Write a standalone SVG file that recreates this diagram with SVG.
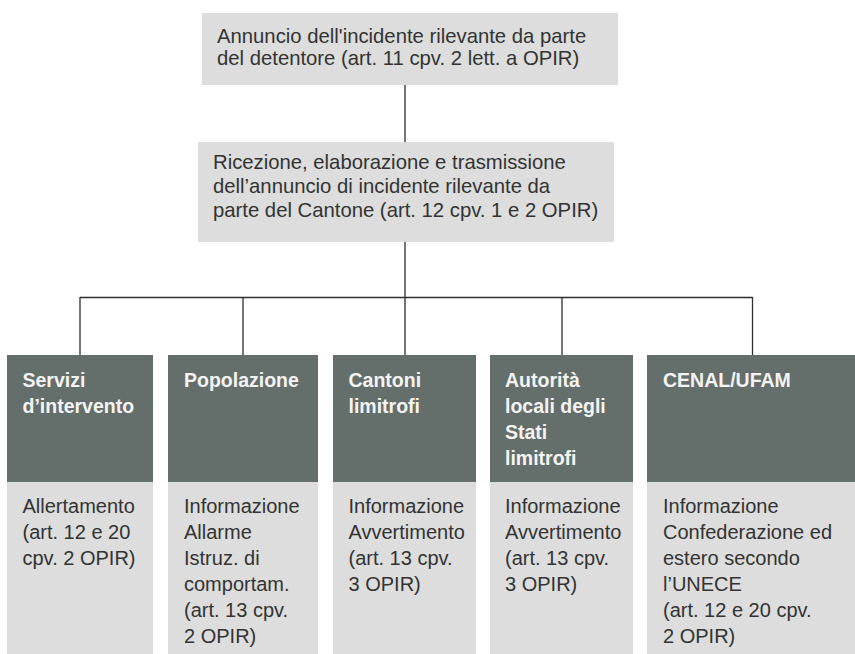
<svg xmlns="http://www.w3.org/2000/svg" width="855" height="654" viewBox="0 0 855 654">
<style>
.light{fill:#dcdddc}
.dark{fill:#646e6b}
.t{font-family:"Liberation Sans",Arial,sans-serif;font-size:20px;fill:#333}
.tt{font-size:20.3px}
.h{font-family:"Liberation Sans",Arial,sans-serif;font-size:19.5px;font-weight:bold;fill:#f4f4f4}
.c{stroke:#2e2e2e;stroke-width:1.3;fill:none}
</style>
<rect width="855" height="654" fill="#fff"/>
<g id="connectors">
<path class="c" d="M405 85V142M405 242V355M80 297.5H752.5M80 297V355M243 297V355M562 297V355M752.5 297V355"/>
</g>
<g id="n-annuncio">
<rect class="light" x="202" y="13" width="416" height="72"/>
<text class="t tt" x="217" y="43">Annuncio dell'incidente rilevante da parte</text>
<text class="t tt" x="217" y="65">del detentore (art. 11 cpv. 2 lett. a OPIR)</text>
</g>
<g id="n-ricezione">
<rect class="light" x="198" y="142" width="416" height="100"/>
<text class="t tt" x="213" y="169">Ricezione, elaborazione e trasmissione</text>
<text class="t tt" x="213" y="193">dell’annuncio di incidente rilevante da</text>
<text class="t tt" x="213" y="217">parte del Cantone (art. 12 cpv. 1 e 2 OPIR)</text>
</g>
<g id="n-servizi">
<rect class="dark" x="7" y="355" width="146" height="127"/>
<rect class="light" x="7" y="482" width="146" height="172"/>
<text class="h" x="22.5" y="387">Servizi</text>
<text class="h" x="22.5" y="413">d’intervento</text>
<text class="t" x="22.5" y="513">Allertamento</text>
<text class="t" x="22.5" y="539">(art. 12 e 20</text>
<text class="t" x="22.5" y="565">cpv. 2 OPIR)</text>
</g>
<g id="n-popolazione">
<rect class="dark" x="168" y="355" width="150" height="127"/>
<rect class="light" x="168" y="482" width="150" height="172"/>
<text class="h" x="184" y="387">Popolazione</text>
<text class="t" x="184" y="513">Informazione</text>
<text class="t" x="184" y="539">Allarme</text>
<text class="t" x="184" y="565">Istruz. di</text>
<text class="t" x="184" y="591">comportam.</text>
<text class="t" x="184" y="617">(art. 13 cpv.</text>
<text class="t" x="184" y="643">2 OPIR)</text>
</g>
<g id="n-cantoni">
<rect class="dark" x="333" y="355" width="143" height="127"/>
<rect class="light" x="333" y="482" width="143" height="172"/>
<text class="h" x="348.5" y="387">Cantoni</text>
<text class="h" x="348.5" y="413">limitrofi</text>
<text class="t" x="348.5" y="513">Informazione</text>
<text class="t" x="348.5" y="539">Avvertimento</text>
<text class="t" x="348.5" y="565">(art. 13 cpv.</text>
<text class="t" x="348.5" y="591">3 OPIR)</text>
</g>
<g id="n-autorita">
<rect class="dark" x="490" y="355" width="143" height="127"/>
<rect class="light" x="490" y="482" width="143" height="172"/>
<text class="h" x="505" y="387">Autorità</text>
<text class="h" x="505" y="413">locali degli</text>
<text class="h" x="505" y="439">Stati</text>
<text class="h" x="505" y="465">limitrofi</text>
<text class="t" x="505" y="513">Informazione</text>
<text class="t" x="505" y="539">Avvertimento</text>
<text class="t" x="505" y="565">(art. 13 cpv.</text>
<text class="t" x="505" y="591">3 OPIR)</text>
</g>
<g id="n-cenal">
<rect class="dark" x="647" y="355" width="208" height="127"/>
<rect class="light" x="647" y="482" width="208" height="172"/>
<text class="h" x="663" y="387">CENAL/UFAM</text>
<text class="t" x="663" y="513">Informazione</text>
<text class="t" x="663" y="539">Confederazione ed</text>
<text class="t" x="663" y="565">estero secondo</text>
<text class="t" x="663" y="591">l’UNECE</text>
<text class="t" x="663" y="617">(art. 12 e 20 cpv.</text>
<text class="t" x="663" y="643">2 OPIR)</text>
</g>
</svg>
